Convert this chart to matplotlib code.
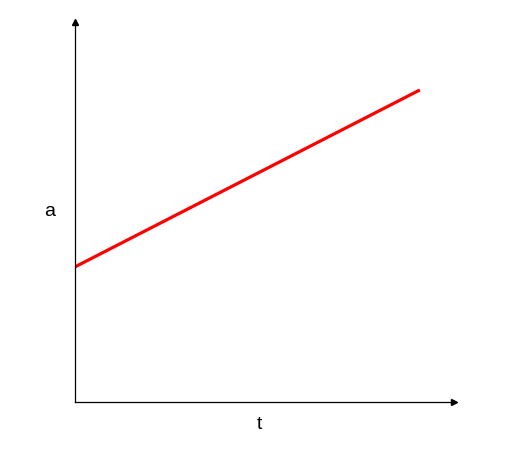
import matplotlib
matplotlib.use("Agg")
import matplotlib.pyplot as plt

# line a(t): start and end values
t_vals = [0.0, 10.0]
a_vals = [3.52, 8.13]

x_label = "t"
y_label = "a"

plt.rcParams["font.family"] = ["Liberation Sans", "DejaVu Sans"]

fig = plt.figure(figsize=(5.14, 4.58), dpi=100)
ax = fig.add_axes([75 / 514, 56 / 458, 379 / 514, 380 / 458])

ax.plot(t_vals, a_vals, color="#ff0000", linewidth=2.3, solid_capstyle="butt")

ax.set_xlim(0, 10.99)
ax.set_ylim(0, 9.9)

for side in ("top", "right"):
    ax.spines[side].set_visible(False)
for side in ("left", "bottom"):
    ax.spines[side].set_linewidth(0.9)
ax.set_xticks([])
ax.set_yticks([])

# arrow heads at the ends of the axes
ax.plot(1, 0, ">", color="black", markersize=5, transform=ax.transAxes, clip_on=False)
ax.plot(0, 1, "^", color="black", markersize=5, transform=ax.transAxes, clip_on=False)

ax.set_xlabel(x_label, fontsize=14)
ax.set_ylabel(y_label, fontsize=14, rotation=0, va="center", ha="center")
ax.xaxis.set_label_coords(0.486, -0.038)
ax.yaxis.set_label_coords(-0.066, 0.502)

fig.savefig("out.png", dpi=100)
